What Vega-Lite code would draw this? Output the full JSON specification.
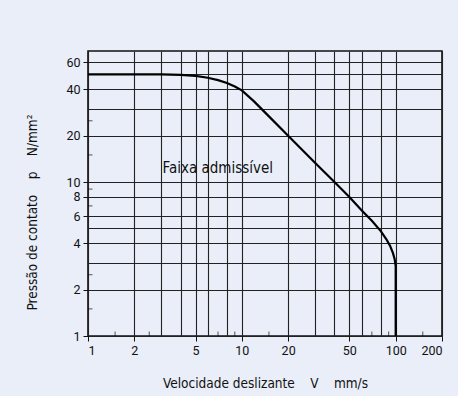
{
  "$schema": "https://vega.github.io/schema/vega-lite/v6.json",
  "width": 354,
  "height": 285,
  "autosize": "none",
  "padding": {"left": 88, "top": 51, "right": 16, "bottom": 60},
  "background": "#e9eef8",
  "config": {
    "view": {"stroke": "#111", "strokeWidth": 1.6, "fill": "#e9eef8"},
    "axis": {"labelFont": "Roboto", "labelFontSize": 12.5, "labelColor": "#111", "titleFont": "'DejaVu Sans Condensed', sans-serif", "titleFontSize": 13.5, "titleFontWeight": "normal", "titleColor": "#111", "domain": false}
  },
  "datasets": {
    "curve": [
      {"i": 0, "v": 1, "p": 50},
      {"i": 1, "v": 2, "p": 50},
      {"i": 2, "v": 3, "p": 50},
      {"i": 3, "v": 4, "p": 49.7},
      {"i": 4, "v": 5, "p": 48.9},
      {"i": 5, "v": 6, "p": 47.6},
      {"i": 6, "v": 7, "p": 45.9},
      {"i": 7, "v": 8, "p": 44},
      {"i": 8, "v": 9, "p": 41.8},
      {"i": 9, "v": 10, "p": 39.4},
      {"i": 10, "v": 12, "p": 33.4},
      {"i": 11, "v": 15, "p": 26.7},
      {"i": 12, "v": 20, "p": 20},
      {"i": 13, "v": 30, "p": 13.3},
      {"i": 14, "v": 40, "p": 10},
      {"i": 15, "v": 50, "p": 8},
      {"i": 16, "v": 60, "p": 6.55},
      {"i": 17, "v": 70, "p": 5.6},
      {"i": 18, "v": 80, "p": 4.8},
      {"i": 19, "v": 87, "p": 4.25},
      {"i": 20, "v": 92, "p": 3.85},
      {"i": 21, "v": 96, "p": 3.45},
      {"i": 22, "v": 98.5, "p": 3.15},
      {"i": 23, "v": 100, "p": 2.85},
      {"i": 24, "v": 100, "p": 1}
    ],
    "xminor": [{"v": 1.5}, {"v": 2.5}, {"v": 7}, {"v": 9}, {"v": 15}, {"v": 70}, {"v": 90}, {"v": 150}],
    "yminor": [{"p": 1.5}, {"p": 2.5}, {"p": 7}, {"p": 9}, {"p": 15}, {"p": 25}],
    "label": [{"v": 3.05, "p": 12.4, "t": "Faixa admissível"}]
  },
  "layer": [
    {
      "data": {"name": "curve"},
      "mark": {"type": "line", "color": "#000", "strokeWidth": 2.2, "clip": true},
      "encoding": {
        "x": {
          "field": "v", "type": "quantitative",
          "scale": {"type": "log", "domain": [1, 200], "nice": false},
          "title": "Velocidade deslizante\u00a0\u00a0\u00a0\u00a0V\u00a0\u00a0\u00a0\u00a0mm/s",
          "axis": {
            "values": [1, 2, 3, 4, 5, 6, 8, 10, 20, 30, 40, 50, 60, 80, 100, 200],
            "labelExpr": "indexof([1,2,5,10,20,50,100,200], datum.value) >= 0 ? datum.label : ''",
            "grid": true, "gridColor": "#222", "gridWidth": 1.1, "gridOpacity": 1,
            "tickColor": "#111", "tickSize": 5,
            "tickOpacity": {"condition": {"test": "indexof([1,2,5,10,20,50,100,200], datum.value) >= 0", "value": 1}, "value": 0},
            "labelPadding": 3, "titlePadding": 20
          }
        },
        "y": {
          "field": "p", "type": "quantitative",
          "scale": {"type": "log", "domain": [1, 71], "nice": false},
          "title": "Pressão de contato\u00a0\u00a0\u00a0\u00a0p\u00a0\u00a0\u00a0\u00a0N/mm²",
          "axis": {
            "values": [1, 2, 3, 4, 5, 6, 8, 10, 20, 30, 40, 50, 60],
            "labelExpr": "indexof([1,2,4,6,8,10,20,40,60], datum.value) >= 0 ? datum.label : ''",
            "grid": true, "gridColor": "#222", "gridWidth": 1.1, "gridOpacity": 1,
            "tickColor": "#111", "tickSize": 5,
            "tickOpacity": {"condition": {"test": "indexof([1,2,4,6,8,10,20,40,60], datum.value) >= 0", "value": 1}, "value": 0},
            "labelPadding": 3, "titlePadding": 26, "titleY": 161
          }
        },
        "order": {"field": "i", "type": "quantitative"}
      }
    },
    {
      "data": {"name": "xminor"},
      "mark": {"type": "tick", "orient": "vertical", "color": "#111", "size": 9, "thickness": 1, "clip": true},
      "encoding": {
        "x": {"field": "v", "type": "quantitative"},
        "y": {"datum": 1}
      }
    },
    {
      "data": {"name": "yminor"},
      "mark": {"type": "tick", "orient": "horizontal", "color": "#111", "size": 9, "thickness": 1, "clip": true},
      "encoding": {
        "y": {"field": "p", "type": "quantitative"},
        "x": {"datum": 1}
      }
    },
    {
      "data": {"name": "label"},
      "mark": {"type": "text", "align": "left", "baseline": "middle", "font": "'DejaVu Sans Condensed', sans-serif", "fontSize": 15, "color": "#111"},
      "encoding": {
        "x": {"field": "v", "type": "quantitative"},
        "y": {"field": "p", "type": "quantitative"},
        "text": {"field": "t"}
      }
    }
  ]
}
